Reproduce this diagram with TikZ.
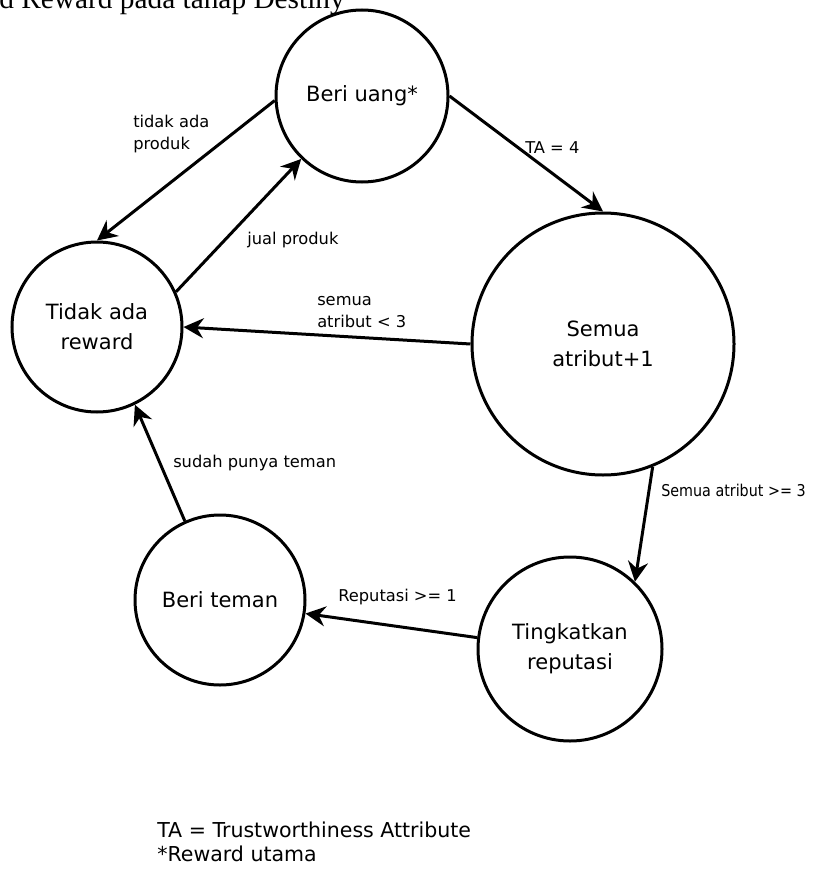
\documentclass[tikz,border=0pt]{standalone}
\usepackage{fontspec}
\setmainfont{DejaVu Sans}
\newfontfamily\capfont{Liberation Serif}
\usetikzlibrary{arrows.meta}
\newlength{\pxu}
\setlength{\pxu}{0.75pt}
\begin{document}
\begin{tikzpicture}[x=0.75pt,y=-0.75pt,
  state/.style={circle,draw,line width=2.25pt,inner sep=0pt,align=center,
    font=\fontsize{15.75}{22.5}\selectfont},
  edge/.style={line width=2.25pt,-{Stealth[length=15pt,width=15pt,inset=5pt]}},
  lbl/.style={font=\fontsize{12.2}{16.5}\selectfont,align=left,anchor=west,inner sep=0pt}]
  % canvas
  \fill[white] (0,0) rectangle (824,870);
  \useasboundingbox (0,0) rectangle (824,870);

  % caption line at the top edge
  \node[anchor=base east,inner sep=0pt,font=\capfont\fontsize{22}{26}\selectfont] (cap) at (345,9) {d Reward pada tahap Destiny};

  % states
  \node[state,minimum size=172\pxu] (bu) at (362,96)  {Beri uang*};
  \node[state,minimum size=170\pxu] (tr) at (97,327)  {Tidak ada\\reward};
  \node[state,minimum size=262\pxu] (sa) at (603,344) {Semua\\atribut+1};
  \node[state,minimum size=184\pxu] (tk) at (570,649) {Tingkatkan\\reputasi};
  \node[state,minimum size=170\pxu] (bt) at (220,600) {Beri teman};

  % transitions
  \draw[edge] (bu.183) -- (tr.90);
  \draw[edge] (tr.24)  -- (bu.226);
  \draw[edge] (bu.0)   -- (sa.90);
  \draw[edge] (sa.180) -- (tr.0);
  \draw[edge] (sa.292) -- (tk.46);
  \draw[edge] (tk.173) -- (bt.351);
  \draw[edge] (bt.114) -- (tr.296);

  % transition labels
  \node[lbl] (l1) at (133,134) {tidak ada\\produk};
  \node[lbl] (l2) at (247,240) {jual produk};
  \node[lbl] (l3) at (525,148) {TA = 4};
  \node[lbl] (l4) at (317,312) {semua\\atribut < 3};
  \node[lbl] (l5) at (661,490) {\scalebox{0.88}[1]{Semua atribut >= 3}};
  \node[lbl] (l6) at (338,597) {Reputasi >= 1};
  \node[lbl] (l7) at (173,463) {sudah punya teman};

  % legend
  \node[anchor=west,align=left,inner sep=0pt,font=\fontsize{15.4}{18}\selectfont] (leg) at (157,842)
    {TA = Trustworthiness Attribute\\*Reward utama};
\end{tikzpicture}
\end{document}
